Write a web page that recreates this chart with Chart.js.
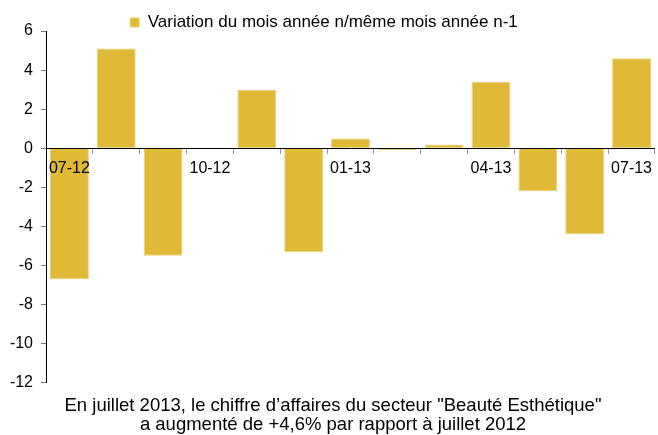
<!DOCTYPE html>
<html>
<head>
<meta charset="utf-8">
<script src="https://cdn.jsdelivr.net/npm/chart.js@4"></script>
<style>
  body { margin: 0; background: #fff; }
  #wrap { width: 658px; height: 435px; }
</style>
</head>
<body>
<div id="wrap"><canvas id="chart"></canvas></div>
<script>
const months = ['07-12', '08-12', '09-12', '10-12', '11-12', '12-12', '01-13',
                '02-13', '03-13', '04-13', '05-13', '06-13', '07-13'];
const variation = [-6.7, 5.1, -5.5, 0, 3.0, -5.3, 0.5, -0.1, 0.2, 3.4, -2.2, -4.4, 4.6];
const seriesLabel = 'Variation du mois année n/même mois année n-1';
const titleLines = [
    'En juillet 2013, le chiffre d\u2019affaires du secteur "Beauté Esthétique"',
    'a augmenté de +4,6% par rapport à juillet 2012'
];

const FONT = "'Liberation Sans', Arial, sans-serif";

// legend sits closer to the plot (and a bit more left) than Chart.js does by default
const tightLegend = {
    id: 'tightLegend',
    beforeUpdate(chart) {
        const lg = chart.legend;
        if (!lg || lg._tight) return;
        const fit = lg.fit, draw = lg.draw;
        lg.fit = function () { fit.call(this); this.height -= 8; };
        lg.draw = function () {
            const ctx = this.ctx;
            ctx.save();
            ctx.translate(-9, 2);
            draw.call(this);
            ctx.restore();
        };
        lg._tight = true;
    }
};

new Chart(document.getElementById('chart'), {
    type: 'bar',
    data: {
        labels: months,
        datasets: [{
            label: seriesLabel,
            data: variation,
            backgroundColor: '#e0b936',
            borderColor: '#ead27a',
            borderWidth: 1,
            barPercentage: 0.83,
            categoryPercentage: 1
        }]
    },
    options: {
        responsive: true, maintainAspectRatio: false,
        animation: false,
        layout: { padding: { top: 10, right: 0, bottom: 1, left: 8 } },
        plugins: {
            legend: {
                position: 'top',
                labels: { color: '#000', font: { family: FONT, size: 17 }, boxWidth: 9, boxHeight: 9, padding: 2 }
            },
            title: {
                display: true,
                position: 'bottom',
                text: titleLines,
                color: '#000',
                font: { family: FONT, size: 18.5, weight: 'normal', lineHeight: 1.03 },
                padding: { top: 13, bottom: 0 }
            },
            tooltip: { enabled: false }
        },
        scales: {
            x: {
                position: { y: 0 },
                grid: { display: true, drawOnChartArea: false, drawTicks: true, tickLength: 5, color: '#999', offset: true },
                border: { display: true, color: '#000', width: 1, z: 1 },
                ticks: {
                    z: 1,
                    color: '#000', font: { family: FONT, size: 16 },
                    autoSkip: false, maxRotation: 0, padding: 6,
                    callback: (v, i) => i % 3 === 0 ? months[i] : ''
                }
            },
            y: {
                min: -12, max: 6,
                afterFit: s => { s.width = 38; },
                grid: { display: true, drawOnChartArea: false, drawTicks: true, tickLength: 5, color: '#777' },
                border: { display: true, color: '#000', width: 1 },
                ticks: { stepSize: 2, color: '#000', font: { family: FONT, size: 16 }, padding: 8 }
            }
        }
    },
    plugins: [tightLegend]
});
</script>
</body>
</html>
